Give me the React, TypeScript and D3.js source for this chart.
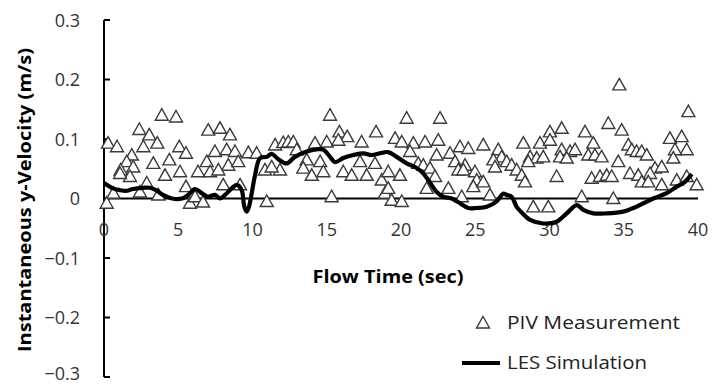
import React from "react";
import * as d3 from "d3";

const pivTime = [
  0.27, 0.88, 2.38, 3.05, 3.89, 4.85, 2.65, 3.59, 5.07, 5.52, 1.87, 1.53, 3.32, 4.4, 1.12, 1.97, 4.11, 5.12, 1.75, 1.08,
  6.33, 2.88, 5.52, 0.63, 0.18, 3.66, 5.79, 6.13, 2.42, 6.67, 7.02, 7.81, 8.48, 11.52, 12.07, 12.41, 12.75, 7.47, 8.26, 8.82,
  9.72, 10.28, 6.92, 8.37, 9.04, 7.14, 7.7, 10.84, 11.85, 11.29, 8.03, 9.16, 10.96, 15.22, 15.85, 16.38, 18.32, 14.21, 15.0, 15.78,
  17.35, 12.98, 13.65, 14.55, 17.24, 18.25, 13.42, 13.99, 14.77, 16.11, 16.68, 17.69, 18.7, 15.33, 18.92, 20.38, 22.63, 19.6, 20.05, 20.83,
  21.62, 22.51, 23.97, 24.53, 25.54, 20.61, 22.4, 23.3, 21.16, 21.5, 21.95, 23.64, 24.31, 23.86, 24.2, 19.14, 19.93, 22.29, 24.98, 25.1,
  24.87, 19.14, 21.73, 23.19, 19.37, 20.05, 24.09, 30.03, 30.82, 28.24, 29.36, 30.03, 26.55, 30.82, 31.38, 31.72, 26.78, 27.12, 27.45, 27.79,
  28.13, 28.35, 26.22, 26.33, 28.69, 29.14, 29.58, 28.57, 30.71, 31.16, 30.48, 25.54, 25.99, 28.91, 29.92, 34.7, 39.35, 33.96, 34.86, 32.39,
  38.11, 38.9, 32.95, 35.31, 35.54, 35.87, 36.21, 36.55, 32.61, 33.06, 33.51, 39.24, 38.45, 34.63, 38.34, 37.1, 37.56, 36.77, 32.84, 33.4,
  33.85, 34.19, 35.42, 35.98, 36.21, 36.65, 37.56, 38.57, 39.24, 39.91, 32.17, 34.3,
];
const pivVel = [
  0.093, 0.087, 0.116, 0.107, 0.14, 0.137, 0.087, 0.093, 0.087, 0.076, 0.073, 0.062, 0.059, 0.065, 0.048, 0.053, 0.039, 0.045, 0.037, 0.042,
  0.045, 0.026, 0.02, 0.009, -0.008, 0.006, -0.008, 0.003, 0.011, -0.006, 0.115, 0.118, 0.107, 0.09, 0.094, 0.095, 0.095, 0.079, 0.082, 0.079,
  0.077, 0.076, 0.062, 0.056, 0.062, 0.045, 0.048, 0.048, 0.048, 0.053, 0.023, 0.023, -0.005, 0.14, 0.112, 0.104, 0.112, 0.093, 0.095, 0.098,
  0.095, 0.082, 0.065, 0.062, 0.062, 0.059, 0.051, 0.039, 0.045, 0.045, 0.039, 0.039, 0.031, 0.003, 0.009, 0.135, 0.135, 0.101, 0.095, 0.093,
  0.095, 0.098, 0.087, 0.084, 0.09, 0.079, 0.073, 0.076, 0.059, 0.056, 0.051, 0.062, 0.056, 0.048, 0.048, 0.045, 0.039, 0.037, 0.045, 0.031,
  0.02, 0.017, 0.017, 0.017, -0.003, -0.005, 0.003, 0.112, 0.118, 0.093, 0.093, 0.098, 0.082, 0.082, 0.079, 0.082, 0.07, 0.062, 0.056, 0.048,
  0.039, 0.028, 0.065, 0.053, 0.07, 0.068, 0.07, 0.062, 0.07, 0.068, 0.037, 0.028, 0.006, -0.014, -0.014, 0.191, 0.146, 0.126, 0.115, 0.112,
  0.101, 0.104, 0.093, 0.09, 0.082, 0.079, 0.079, 0.073, 0.073, 0.073, 0.07, 0.082, 0.082, 0.062, 0.068, 0.051, 0.053, 0.042, 0.034, 0.037,
  0.039, 0.037, 0.042, 0.039, 0.028, 0.028, 0.023, 0.031, 0.037, 0.023, 0.003, 0.0,
];

const lesTime = [
  0, 0.61, 1.08, 1.55, 1.95, 2.63, 3.1, 3.5, 3.97, 4.58, 5.25, 5.66, 6.13, 6.58, 7.0, 7.47, 7.81, 8.15, 8.6, 8.94,
  9.27, 9.45, 9.61, 9.76, 9.95, 10.17, 10.51, 10.96, 11.29, 11.74, 12.3, 12.86, 13.65, 14.41, 14.77, 15.22, 15.56, 16.11, 16.79, 17.46,
  18.03, 18.59, 19.12, 19.71, 20.38, 20.94, 21.39, 21.84, 22.4, 22.85, 23.41, 23.97, 24.53, 25.1, 25.77, 26.44, 26.87, 27.14, 27.45, 27.79,
  28.15, 28.69, 29.58, 30.48, 31.16, 31.83, 32.28, 32.95, 33.85, 34.97, 35.64, 36.32, 36.99, 37.89, 38.57, 39.12, 39.58,
];
const lesVel = [
  0.026, 0.017, 0.014, 0.013, 0.016, 0.018, 0.018, 0.014, 0.006, 0.0, 0.0, 0.006, 0.016, 0.009, 0.003, 0.006, 0.0, 0.006, 0.017, 0.023,
  0.014, -0.014, -0.022, -0.014, 0.009, 0.039, 0.068, 0.07, 0.075, 0.066, 0.059, 0.07, 0.079, 0.083, 0.082, 0.07, 0.061, 0.068, 0.073, 0.076,
  0.073, 0.076, 0.078, 0.07, 0.059, 0.053, 0.045, 0.031, 0.011, 0.003, 0.0, -0.008, -0.016, -0.016, -0.014, -0.005, 0.008, 0.006, 0.003, -0.014,
  -0.024, -0.036, -0.042, -0.039, -0.025, -0.011, -0.019, -0.025, -0.025, -0.022, -0.016, -0.008, 0.0, 0.009, 0.02, 0.028, 0.041,
];

const xTicks = [0, 5, 10, 15, 20, 25, 30, 35, 40];
const yTicks = [-0.3, -0.2, -0.1, 0, 0.1, 0.2, 0.3];
const xTitle = "Flow Time (sec)";
const yTitle = "Instantaneous y-Velocity (m/s)";
const legendLabels = ["PIV Measurement", "LES Simulation"];

const W = 712;
const H = 386;
const FONT = "'Open Sans', Lato, sans-serif";

const x = d3.scaleLinear().domain([0, 40]).range([104, 698]);
const y = d3.scaleLinear().domain([-0.3, 0.3]).range([377, 20]);

const tri = "M0,-6.5L6.5,5L-6.5,5Z";

export default function App() {
  const pts = pivTime.map((t, i) => [t, pivVel[i]] as [number, number]);
  const les = lesTime.map((t, i) => [t, lesVel[i]] as [number, number]);
  const line = d3
    .line<[number, number]>()
    .x((d) => x(d[0]))
    .y((d) => y(d[1]))
    .curve(d3.curveCatmullRom.alpha(0.5));

  const fmtY = (v: number) => (v === 0 ? "0" : d3.format(".1f")(v));

  return (
    <div style={{ position: "absolute", left: 0, top: 0 }}>
      <svg width={W} height={H} style={{ display: "block", background: "#fff" }}>
        {/* y axis */}
        <line x1={x(0)} x2={x(0)} y1={y(0.3)} y2={y(-0.3)} stroke="#000" strokeWidth={2} />
        {yTicks.map((v) => (
          <g key={v}>
            <line x1={x(0)} x2={x(0) + 6} y1={y(v)} y2={y(v)} stroke="#000" strokeWidth={2} />
            <text
              x={80}
              y={Math.min(y(v) + 6.5, 380)}
              textAnchor="end"
              fontFamily={FONT}
              fontSize={18}
              fill="#333"
            >
              {fmtY(v)}
            </text>
          </g>
        ))}
        {/* x axis at zero */}
        <line x1={x(0)} x2={x(40)} y1={y(0)} y2={y(0)} stroke="#000" strokeWidth={2} />
        {xTicks.map((t) => (
          <text
            key={t}
            x={x(t)}
            y={236}
            textAnchor="middle"
            fontFamily={FONT}
            fontSize={18}
            fill="#333"
          >
            {t}
          </text>
        ))}

        {/* PIV markers */}
        {pts.map((d, i) => (
          <path
            key={i}
            d={tri}
            transform={`translate(${x(d[0])},${y(d[1])})`}
            fill="#fff"
            stroke="#3a3a3a"
            strokeWidth={1.4}
          />
        ))}

        {/* LES line */}
        <path d={line(les) || ""} fill="none" stroke="#000" strokeWidth={4.2} strokeLinejoin="round" />

        {/* titles */}
        <text
          x={388}
          y={283}
          textAnchor="middle"
          fontFamily={FONT}
          fontWeight="bold"
          fontSize={18}
          fill="#000"
          textLength={151}
          lengthAdjust="spacingAndGlyphs"
        >
          {xTitle}
        </text>
        <text
          transform={`translate(31,200) rotate(-90)`}
          textAnchor="middle"
          fontFamily={FONT}
          fontWeight="bold"
          fontSize={18}
          fill="#000"
          textLength={304}
          lengthAdjust="spacingAndGlyphs"
        >
          {yTitle}
        </text>

        {/* legend */}
        <path d={tri} transform="translate(483,323)" fill="#fff" stroke="#3a3a3a" strokeWidth={1.4} />
        <text x={507} y={329} fontFamily={FONT} fontSize={19} fill="#222" textLength={173} lengthAdjust="spacingAndGlyphs">
          {legendLabels[0]}
        </text>
        <line x1={462} x2={500} y1={363} y2={363} stroke="#000" strokeWidth={4} />
        <text x={507} y={369} fontFamily={FONT} fontSize={19} fill="#222" textLength={140} lengthAdjust="spacingAndGlyphs">
          {legendLabels[1]}
        </text>
      </svg>
    </div>
  );
}
